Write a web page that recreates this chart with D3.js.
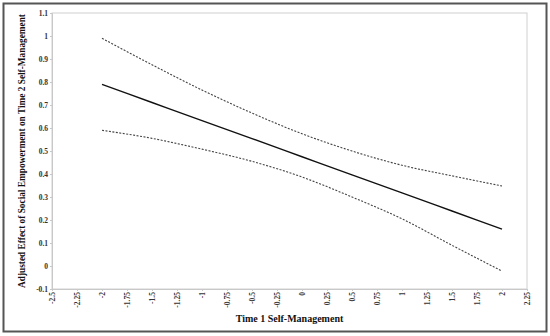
<!DOCTYPE html>
<html>
<head>
<meta charset="utf-8">
<script src="https://cdn.jsdelivr.net/npm/d3@7"></script>
<style>
  body { margin: 0; background: #fff; }
  svg { display: block; }
  text { font-family: "Liberation Serif", "Times New Roman", serif; font-weight: bold; }
</style>
</head>
<body>
<div id="chart"></div>
<script>
// values
var xPoints = [-2, -1.5, -1, -0.5, 0, 0.5, 1, 1.5, 2];
var estimate = [0.79, 0.711, 0.632, 0.554, 0.475, 0.396, 0.318, 0.239, 0.16];
var upperBound = [0.99, 0.875, 0.765, 0.665, 0.575, 0.50, 0.438, 0.392, 0.348];
var lowerBound = [0.59, 0.555, 0.508, 0.455, 0.387, 0.30, 0.205, 0.09, -0.022];
var xTicks = [-2.5, -2.25, -2, -1.75, -1.5, -1.25, -1, -0.75, -0.5, -0.25, 0, 0.25, 0.5, 0.75, 1, 1.25, 1.5, 1.75, 2, 2.25];
var yTicks = [-0.1, 0, 0.1, 0.2, 0.3, 0.4, 0.5, 0.6, 0.7, 0.8, 0.9, 1, 1.1];
var xTitle = "Time 1 Self-Management";
var yTitle = "Adjusted Effect of Social Empowerment on Time 2 Self-Management";

var width = 550, height = 336;
var plot = { left: 52, right: 527, top: 13, bottom: 289 };

var svg = d3.select("#chart").append("svg").attr("width", width).attr("height", height);

// outer frame
svg.append("rect").attr("x", 3.5).attr("y", 3.5).attr("width", 543).attr("height", 328)
    .attr("fill", "#fff").attr("stroke", "#555").attr("stroke-width", 2);

var x = d3.scaleLinear().domain([-2.5, 2.25]).range([plot.left, plot.right]);
var y = d3.scaleLinear().domain([-0.1, 1.1]).range([plot.bottom, plot.top]);

// plot frame
svg.append("rect").attr("x", plot.left).attr("y", plot.top)
    .attr("width", plot.right - plot.left).attr("height", plot.bottom - plot.top)
    .attr("fill", "none").attr("stroke", "#d0d0d0").attr("stroke-width", 1);

var xAxis = svg.append("g").attr("transform", "translate(0," + plot.bottom + ")")
    .call(d3.axisBottom(x).tickValues(xTicks).tickFormat(function (d) { return String(d); }).tickSize(2));
xAxis.select(".domain").attr("stroke", "#c8c8c8");
xAxis.selectAll(".tick line").attr("stroke", "#c8c8c8");
xAxis.selectAll(".tick text")
    .attr("transform", "rotate(-90)")
    .attr("x", -3).attr("y", 0).attr("dy", "0.35em")
    .attr("text-anchor", "end")
    .attr("font-size", 7.5).attr("fill", "#333");

var yAxis = svg.append("g").attr("transform", "translate(" + plot.left + ",0)")
    .call(d3.axisLeft(y).tickValues(yTicks).tickFormat(function (d) { return String(d); }).tickSize(2));
yAxis.select(".domain").attr("stroke", "#c8c8c8");
yAxis.selectAll(".tick line").attr("stroke", "#c8c8c8");
yAxis.selectAll(".tick text").attr("x", -4).attr("font-size", 7.5).attr("fill", "#333");
xAxis.attr("font-family", null);
yAxis.attr("font-family", null);

function series(vals) {
    return xPoints.map(function (d, i) { return [d, vals[i]]; });
}
var line = d3.line().x(function (d) { return x(d[0]); }).y(function (d) { return y(d[1]); })
    .curve(d3.curveMonotoneX);

[upperBound, lowerBound].forEach(function (vals) {
    svg.append("path").datum(series(vals)).attr("d", line)
        .attr("fill", "none").attr("stroke", "#444").attr("stroke-width", 1.1)
        .attr("stroke-dasharray", "2,1.5");
});
svg.append("path").datum(series(estimate)).attr("d", line)
    .attr("fill", "none").attr("stroke", "#111").attr("stroke-width", 1.4);

svg.append("text").attr("x", (plot.left + plot.right) / 2).attr("y", 322)
    .attr("text-anchor", "middle").attr("font-size", 10).attr("fill", "#111").text(xTitle);

svg.append("text").attr("transform", "translate(25," + ((plot.top + plot.bottom) / 2) + ") rotate(-90)")
    .attr("text-anchor", "middle").attr("font-size", 9.3).attr("fill", "#111").text(yTitle);
</script>
</body>
</html>
